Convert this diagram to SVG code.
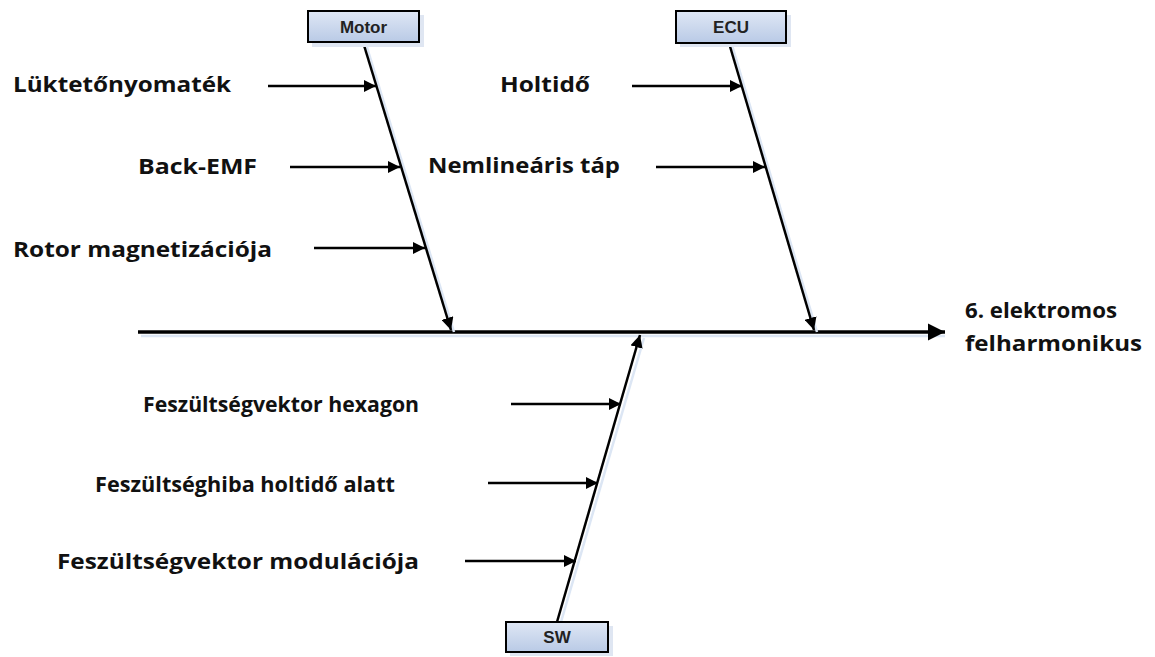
<svg xmlns="http://www.w3.org/2000/svg" width="1155" height="657" viewBox="0 0 1155 657">
<defs>
<marker id="ah" viewBox="0 0 10 10" refX="10" refY="5" markerWidth="5" markerHeight="5" orient="auto" markerUnits="strokeWidth">
<path d="M0,0 L10,5 L0,10 Z" fill="#000"/>
</marker>
<linearGradient id="bg" x1="0" y1="0" x2="0" y2="1">
<stop offset="0" stop-color="#dfe7f5"/>
<stop offset="1" stop-color="#b9cae6"/>
</linearGradient>
</defs>
<style>
.lbl{font-family:"Open Sans",Lato,"Liberation Sans",sans-serif;font-weight:bold;font-size:22px;fill:#111}
.box{fill:url(#bg);stroke:#000;stroke-width:2}
.shd{fill:#dfe6f2}
.bt{font-family:"Liberation Sans",Arial,sans-serif;font-weight:bold;font-size:17px;fill:#222;text-anchor:middle}
.ln{stroke:#000;stroke-width:2.5;fill:none}
.ls{stroke:#dce6f4;stroke-width:2.5;fill:none}
.sp{stroke:#000;stroke-width:3.5;fill:none}
</style>
<rect width="1155" height="657" fill="#fff"/>
<g id="connectors">
<line class="ls" x1="141" y1="336" x2="945" y2="336"/>
<line class="sp" x1="138" y1="332" x2="945" y2="332" marker-end="url(#ah)"/>
<line class="ls" x1="366" y1="44" x2="454" y2="332"/>
<line class="ln" x1="363" y1="42" x2="451" y2="330" marker-end="url(#ah)"/>
<line class="ls" x1="732" y1="45" x2="817" y2="332"/>
<line class="ln" x1="729" y1="43" x2="814" y2="330" marker-end="url(#ah)"/>
<line class="ls" x1="561" y1="622" x2="644" y2="338"/>
<line class="ln" x1="557" y1="622" x2="640" y2="335" marker-end="url(#ah)"/>
<line class="ln" x1="268" y1="86" x2="376" y2="86" marker-end="url(#ah)"/>
<line class="ln" x1="290" y1="167" x2="400" y2="167" marker-end="url(#ah)"/>
<line class="ln" x1="314" y1="248" x2="425" y2="248" marker-end="url(#ah)"/>
<line class="ln" x1="632" y1="86" x2="742" y2="86" marker-end="url(#ah)"/>
<line class="ln" x1="656" y1="167" x2="765" y2="167" marker-end="url(#ah)"/>
<line class="ln" x1="511" y1="404" x2="621" y2="404" marker-end="url(#ah)"/>
<line class="ln" x1="488" y1="483" x2="598" y2="483" marker-end="url(#ah)"/>
<line class="ln" x1="465" y1="561" x2="576" y2="561" marker-end="url(#ah)"/>
</g>
<g id="motor">
<rect class="shd" x="312" y="15" width="112" height="32"/>
<rect class="box" x="308" y="11" width="111" height="31"/>
<text class="bt" x="363.5" y="33">Motor</text>
</g>
<g id="ecu">
<rect class="shd" x="680" y="15" width="111" height="32"/>
<rect class="box" x="676" y="11" width="110" height="32"/>
<text class="bt" x="731" y="33">ECU</text>
</g>
<g id="sw">
<rect class="shd" x="510" y="626" width="103" height="30"/>
<rect class="box" x="506" y="622" width="102" height="30"/>
<text class="bt" x="557" y="643">SW</text>
</g>
<g id="labels">
<text class="lbl" x="13" y="92" textLength="218" lengthAdjust="spacingAndGlyphs">Lüktetőnyomaték</text>
<text class="lbl" x="138" y="174" textLength="119" lengthAdjust="spacingAndGlyphs">Back-EMF</text>
<text class="lbl" x="13" y="257" textLength="259" lengthAdjust="spacingAndGlyphs">Rotor magnetizációja</text>
<text class="lbl" x="500" y="92" textLength="90" lengthAdjust="spacingAndGlyphs">Holtidő</text>
<text class="lbl" x="428" y="173" textLength="192" lengthAdjust="spacingAndGlyphs">Nemlineáris táp</text>
<text class="lbl" x="965" y="318" textLength="152" lengthAdjust="spacingAndGlyphs">6. elektromos</text>
<text class="lbl" x="965" y="351" textLength="177" lengthAdjust="spacingAndGlyphs">felharmonikus</text>
<text class="lbl" x="143" y="412" textLength="276" lengthAdjust="spacingAndGlyphs">Feszültségvektor hexagon</text>
<text class="lbl" x="95" y="492" textLength="300" lengthAdjust="spacingAndGlyphs">Feszültséghiba holtidő alatt</text>
<text class="lbl" x="57" y="569" textLength="362" lengthAdjust="spacingAndGlyphs">Feszültségvektor modulációja</text>
</g>
</svg>
